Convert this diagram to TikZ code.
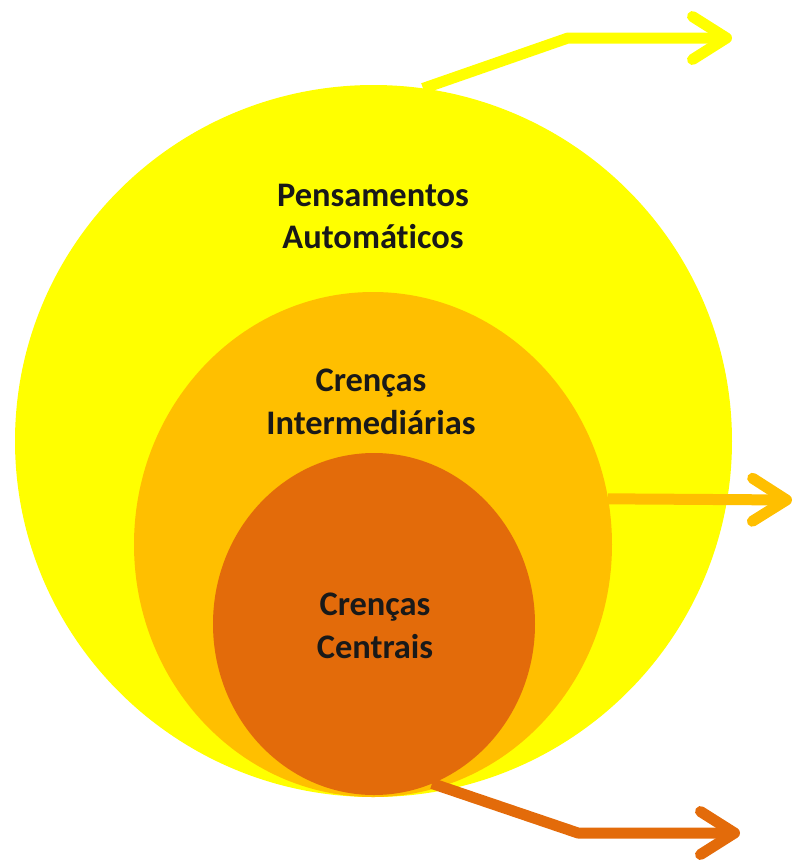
\documentclass[tikz,border=0pt]{standalone}
\usepackage{fontspec}
\setmainfont{Carlito}[Ligatures=NoCommon]
\definecolor{lemonyellow}{rgb}{1.0, 1.0, 0.0}
\definecolor{amber}{rgb}{1.0, 0.75, 0.0}
\definecolor{pumpkin}{rgb}{0.89, 0.42, 0.04}
\definecolor{inkdark}{rgb}{0.1, 0.1, 0.1}
\usetikzlibrary{shapes.geometric,arrows.meta}

\tikzset{
  ring/.style={ellipse, inner sep=0pt, outer sep=0pt},
  lbl/.style={align=center, text=inkdark, font=\fontsize{19.6}{24.4}\selectfont\bfseries},
  flow/.style={line width=0.22cm, line join=round, -{Straight Barb[length=0.68cm, width=0.86cm, round]}}
}

\begin{document}
\begin{tikzpicture}
            \useasboundingbox (0,0) rectangle (15.88,-17.22);

            % nested circles
            \node[ring, fill=lemonyellow, minimum width=14.34cm, minimum height=14.24cm] (outer) at (7.47,-8.82) {};
            \node[ring, fill=amber, minimum width=9.56cm, minimum height=10.1cm] (middle) at (7.46,-10.89) {};
            \node[ring, fill=pumpkin, minimum width=6.44cm, minimum height=6.84cm] (inner) at (7.48,-12.48) {};

            % labels
            \node[lbl] (pens) at (7.46,-4.33) {Pensamentos\\Automáticos};
            \node[lbl] (inter) at (7.42,-8.03) {Crenças\\Intermediárias};
            \node[lbl] (centr) at (7.50,-12.52) {Crenças\\Centrais};

            % arrow ends
            \coordinate (topbend) at (11.36,-0.76);
            \coordinate (toptip) at (14.64,-0.76);
            \coordinate (midtip) at (15.84,-10.0);
            \coordinate (lowbend) at (11.56,-16.66);
            \coordinate (lowtip) at (14.80,-16.66);

            % arrows
            \draw[flow, lemonyellow] (outer.82) -- (topbend) -- (toptip);
            \draw[flow, amber] (middle.11) -- (midtip);
            \draw[flow, pumpkin] (inner.-70) -- (lowbend) -- (lowtip);

\end{tikzpicture}
\end{document}
